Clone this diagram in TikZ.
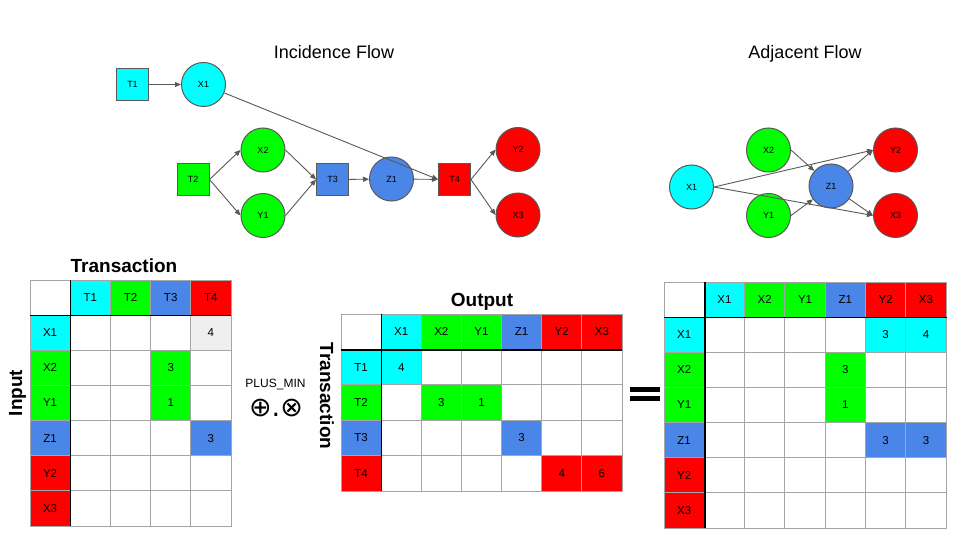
\documentclass[tikz,border=0pt]{standalone}
\usepackage{fontspec}
\setmainfont{Liberation Sans}
\newfontfamily\symf{DejaVu Sans}
\usetikzlibrary{arrows.meta}
\definecolor{cy}{HTML}{00FFFF}
\definecolor{gr}{HTML}{00FF00}
\definecolor{bl}{HTML}{4A86E8}
\definecolor{rd}{HTML}{FF0000}
\definecolor{lg}{HTML}{EFEFEF}
\definecolor{edgec}{HTML}{595959}
\definecolor{gridc}{HTML}{A5A5A5}
\begin{document}
\begin{tikzpicture}[x=1pt,y=-1pt,
  sq/.style={draw=edgec,line width=1pt,minimum size=32pt,inner sep=0pt,font=\fontsize{9}{10}\selectfont},
  circ/.style={circle,draw=edgec,line width=1pt,minimum size=44pt,inner sep=0pt,font=\fontsize{9}{10}\selectfont},
  flow/.style={draw=edgec,line width=0.9pt,-{Triangle[length=6pt,width=5pt]}},
  cell/.style={draw=gridc,line width=0.9pt,inner sep=0pt,font=\fontsize{11.5}{12}\selectfont},
  cellL/.style={cell,minimum width=40.2pt,minimum height=35.14pt},
  cellM/.style={cell,minimum width=40.14pt,minimum height=35.4pt},
  cellR/.style={cell,minimum width=40.3pt,minimum height=35.14pt},
  sepline/.style={draw=black,line width=1.5pt},
  title/.style={font=\fontsize{18}{20}\selectfont,anchor=base},
  btitle/.style={font=\fontsize{19}{21}\selectfont\bfseries,anchor=base}]
\useasboundingbox[fill=white] (0,0) rectangle (960,540);

% ---------- titles ----------
\node[title] (tinc) at (334,58.3) {Incidence Flow};
\node[title] (tadj) at (805,58.3) {Adjacent Flow};

% ---------- incidence graph ----------
\node[sq,fill=cy] (T1) at (132.5,84.5) {T1};
\node[circ,fill=cy] (X1) at (203.5,84.5) {X1};
\node[sq,fill=gr] (T2) at (193,179.5) {T2};
\node[circ,fill=gr] (X2) at (263,150) {X2};
\node[circ,fill=gr] (Y1) at (263,215.5) {Y1};
\node[sq,fill=bl] (T3) at (332.5,179.5) {T3};
\node[circ,fill=bl] (Z1) at (391.5,179) {Z1};
\node[sq,fill=rd] (T4) at (454.5,179.5) {T4};
\node[circ,fill=rd] (Y2) at (518,149.5) {Y2};
\node[circ,fill=rd] (X3) at (518,215) {X3};
\draw[flow] (T1) -- (X1);
\draw[flow] (X1) -- (T4.west);
\draw[flow] (T2.east) -- (X2.west);
\draw[flow] (T2.east) -- (Y1.west);
\draw[flow] (X2.east) -- (T3.west);
\draw[flow] (Y1.east) -- (T3.west);
\draw[flow] (T3) -- (Z1);
\draw[flow] (Z1) -- (T4);
\draw[flow] (T4.east) -- (Y2.west);
\draw[flow] (T4.east) -- (X3.west);

% ---------- adjacent graph ----------
\node[circ,fill=cy] (aX1) at (691.5,187) {X1};
\node[circ,fill=gr] (aX2) at (768.5,150) {X2};
\node[circ,fill=gr] (aY1) at (768.5,215.5) {Y1};
\node[circ,fill=bl] (aZ1) at (831,186) {Z1};
\node[circ,fill=rd] (aY2) at (895.5,150) {Y2};
\node[circ,fill=rd] (aX3) at (895.5,215.5) {X3};
\draw[flow] (aX2.east) -- (aZ1);
\draw[flow] (aY1.east) -- (aZ1);
\draw[flow] (aZ1) -- (aY2.west);
\draw[flow] (aZ1) -- (aX3.west);
\draw[flow] (aX1.east) -- (aY2.west);
\draw[flow] (aX1.east) -- (aX3.west);

% ---------- left matrix ----------
\node[btitle] (ltitle) at (124,272) {Transaction};
\node[btitle,rotate=90] (linput) at (22,393) {Input};
\node[cellL] (L-0-0) at ({30+0.5*40.2},{280+0.5*35.14}) {};
\foreach \c/\t/\f in {1/T1/cy,2/T2/gr,3/T3/bl,4/T4/rd}
  \node[cellL,fill=\f] (L-0-\c) at ({30+(\c+0.5)*40.2},{280+0.5*35.14}) {\t};
\foreach \r/\t/\f in {1/X1/cy,2/X2/gr,3/Y1/gr,4/Z1/bl,5/Y2/rd,6/X3/rd}
  \node[cellL,fill=\f] (L-\r-0) at ({30+0.5*40.2},{280+(\r+0.5)*35.14}) {\t};
\foreach \r in {1,...,6} \foreach \c in {1,...,4}
  \node[cellL] (L-\r-\c) at ({30+(\c+0.5)*40.2},{280+(\r+0.5)*35.14}) {};
\foreach \r/\c/\v/\f in {1/4/4/lg,2/3/3/gr,3/3/1/gr,4/4/3/bl}
  \node[cellL,fill=\f] (Lv-\r-\c) at (L-\r-\c) {\v};
\draw[sepline] (L-0-0.south west) -- (L-0-4.south east);
\draw[sepline] (L-0-0.north east) -- (L-6-0.south east);

% ---------- operator ----------
\node[font=\fontsize{12}{13}\selectfont,anchor=base] (op) at (275.5,387) {PLUS\_MIN};
\node[font=\symf\fontsize{27}{29}\selectfont,inner sep=0pt] (opsym) at (276,408.5) {⊕.⊗};

% ---------- middle matrix ----------
\node[btitle] (mtitle) at (482,306.7) {Output};
\node[btitle,rotate=-90] (mtrans) at (320,396) {Transaction};
\node[cellM] (M-0-0) at ({341+0.5*40.14},{314+0.5*35.4}) {};
\foreach \c/\t/\f in {1/X1/cy,2/X2/gr,3/Y1/gr,4/Z1/bl,5/Y2/rd,6/X3/rd}
  \node[cellM,fill=\f] (M-0-\c) at ({341+(\c+0.5)*40.14},{314+0.5*35.4}) {\t};
\foreach \r/\t/\f in {1/T1/cy,2/T2/gr,3/T3/bl,4/T4/rd}
  \node[cellM,fill=\f] (M-\r-0) at ({341+0.5*40.14},{314+(\r+0.5)*35.4}) {\t};
\foreach \r in {1,...,4} \foreach \c in {1,...,6}
  \node[cellM] (M-\r-\c) at ({341+(\c+0.5)*40.14},{314+(\r+0.5)*35.4}) {};
\foreach \r/\c/\v/\f in {1/1/4/cy,2/2/3/gr,2/3/1/gr,3/4/3/bl,4/5/4/rd,4/6/6/rd}
  \node[cellM,fill=\f] (Mv-\r-\c) at (M-\r-\c) {\v};
\draw[sepline] (M-0-0.south west) -- (M-0-6.south east);
\draw[sepline] (M-0-0.north east) -- (M-4-0.south east);

% ---------- equals ----------
\fill[black] (630,386.7) rectangle (660,392);
\fill[black] (630,395.7) rectangle (660,401.3);

% ---------- right matrix ----------
\node[cellR] (R-0-0) at ({664+0.5*40.3},{282+0.5*35.14}) {};
\foreach \c/\t/\f in {1/X1/cy,2/X2/gr,3/Y1/gr,4/Z1/bl,5/Y2/rd,6/X3/rd}
  \node[cellR,fill=\f] (R-0-\c) at ({664+(\c+0.5)*40.3},{282+0.5*35.14}) {\t};
\foreach \r/\t/\f in {1/X1/cy,2/X2/gr,3/Y1/gr,4/Z1/bl,5/Y2/rd,6/X3/rd}
  \node[cellR,fill=\f] (R-\r-0) at ({664+0.5*40.3},{282+(\r+0.5)*35.14}) {\t};
\foreach \r in {1,...,6} \foreach \c in {1,...,6}
  \node[cellR] (R-\r-\c) at ({664+(\c+0.5)*40.3},{282+(\r+0.5)*35.14}) {};
\foreach \r/\c/\v/\f in {1/5/3/cy,1/6/4/cy,2/4/3/gr,3/4/1/gr,4/5/3/bl,4/6/3/bl}
  \node[cellR,fill=\f] (Rv-\r-\c) at (R-\r-\c) {\v};
\draw[sepline] (R-0-0.south west) -- (R-0-6.south east);
\draw[sepline] (R-0-0.north east) -- (R-6-0.south east);
\end{tikzpicture}
\end{document}
